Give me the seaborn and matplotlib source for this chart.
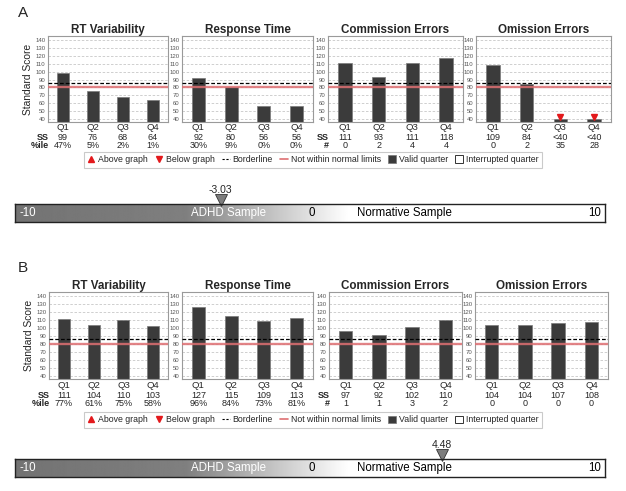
import numpy as np
import matplotlib
matplotlib.use("Agg")
import matplotlib.pyplot as plt
import matplotlib.transforms as mtransforms
from matplotlib.lines import Line2D
from matplotlib.patches import Patch
import seaborn as sns

W, H = 626, 491

measures = ["RT Variability", "Response Time", "Commission Errors", "Omission Errors"]
quarters = ["Q1", "Q2", "Q3", "Q4"]

# case A
a_rtv_ss = [99, 76, 68, 64]
a_rtv_pct = ["47%", "5%", "2%", "1%"]
a_rt_ss = [92, 80, 56, 56]
a_rt_pct = ["30%", "9%", "0%", "0%"]
a_com_ss = [111, 93, 111, 118]
a_com_n = [0, 2, 4, 4]
a_om_ss = [109, 84, None, None]  # None -> below graph (<40)
a_om_n = [0, 2, 35, 28]
a_index = -3.03

# case B
b_rtv_ss = [111, 104, 110, 103]
b_rtv_pct = ["77%", "61%", "75%", "58%"]
b_rt_ss = [127, 115, 109, 113]
b_rt_pct = ["96%", "84%", "73%", "81%"]
b_com_ss = [97, 92, 102, 110]
b_com_n = [1, 1, 3, 2]
b_om_ss = [104, 104, 107, 108]
b_om_n = [0, 0, 0, 0]
b_index = 4.48

borderline = 86
normal_limit = 80
floor_value = 40
y_ticks = list(range(40, 141, 10))
scale_min, scale_max = -10, 10

BAR = "#3b3b3b"
RED = "#e3191c"
PINK = "#de6f72"

sns.set_style("white")
plt.rcParams["font.family"] = ["Liberation Sans", "DejaVu Sans"]

fig = plt.figure(figsize=(W / 100, H / 100), dpi=100)


def px_axes(x0, y0, x1, y1):
    return fig.add_axes([x0 / W, 1 - y1 / H, (x1 - x0) / W, (y1 - y0) / H])


def fy(y):
    return 1 - y / H


def draw_case(letter, ss_lists, third_rows, index, lay):
    fig.text(18 / W, fy(lay["letter_y"]), letter, fontsize=11, va="center", ha="left")
    row_names = ["%ile", "%ile", "#", "#"]
    for k, (name, ss, third) in enumerate(zip(measures, ss_lists, third_rows)):
        x0, x1 = lay["boxes"][k]
        ax = px_axes(x0, lay["top"], x1, lay["bot"])
        vals = [v if v is not None else floor_value for v in ss]
        sns.barplot(x=quarters, y=vals, color=BAR, saturation=1, width=0.4,
                    edgecolor="#7a7a7a", linewidth=0.5, ax=ax, zorder=2)
        for i, v in enumerate(ss):
            if v is None:
                ax.plot(i, floor_value + 2.6, marker="v", color=RED, ms=4.5,
                        linestyle="none", zorder=4)
        ax.axhline(normal_limit, color=PINK, lw=1.7, alpha=0.85, zorder=3)
        ax.axhline(borderline, color="black", lw=0.9, ls=(0, (3, 1.6)), zorder=3)
        ax.set_ylim(36, 145.5)
        ax.set_xlim(-0.5, 3.5)
        ax.set_yticks(y_ticks)
        ax.yaxis.grid(True, color="#c8c8c8", lw=0.6, ls=(0, (3, 2)))
        ax.set_axisbelow(True)
        ax.tick_params(axis="y", labelsize=4.3, length=1.0, pad=0.8, colors="#555")
        ax.set_xticks([])
        ax.set_xlabel("")
        ax.set_ylabel("")
        for s in ax.spines.values():
            s.set_color("#9a9a9a")
            s.set_linewidth(0.8)
        ax.set_title(name, fontsize=8.4, fontweight="bold", pad=0)
        ax.title.set_y(1 + (lay["top"] - lay["title_y"]) / (lay["bot"] - lay["top"]) - 0.06)

        tr = mtransforms.blended_transform_factory(ax.transData, fig.transFigure)
        for i, q in enumerate(quarters):
            ss_txt = "<40" if ss[i] is None else str(ss[i])
            ax.text(i, fy(lay["q_y"]), q, transform=tr, ha="center", va="center", fontsize=6.8)
            ax.text(i, fy(lay["ss_y"]), ss_txt, transform=tr, ha="center", va="center", fontsize=6.5)
            ax.text(i, fy(lay["r3_y"]), str(third[i]), transform=tr, ha="center", va="center", fontsize=6.5)
        if k in (0, 2):
            xr = (x0 + 1) / W
            fig.text(xr, fy(lay["ss_y"]), "SS", ha="right", va="center", fontsize=6.5, fontweight="bold")
            fig.text(xr, fy(lay["r3_y"]), row_names[k], ha="right", va="center", fontsize=6.5, fontweight="bold")
        if k == 0:
            ax.set_ylabel("Standard Score", fontsize=7.4, labelpad=2)

    handles = [
        Line2D([], [], marker="^", color=RED, ls="none", ms=4.5),
        Line2D([], [], marker="v", color=RED, ls="none", ms=4.5),
        Line2D([], [], color="black", ls=(0, (2, 1.5)), lw=0.8),
        Line2D([], [], color=PINK, lw=1.2),
        Patch(facecolor=BAR, edgecolor="#777", lw=0.5),
        Patch(facecolor="white", edgecolor="#333", lw=0.7),
    ]
    labels = ["Above graph", "Below graph", "Borderline", "Not within normal limits",
              "Valid quarter", "Interrupted quarter"]
    leg = fig.legend(handles, labels, loc="center", ncol=6,
                     bbox_to_anchor=(313 / W, fy(lay["leg_y"])), fontsize=6.3,
                     frameon=True, fancybox=False, edgecolor="#bdbdbd",
                     handlelength=0.9, handleheight=0.9, handletextpad=0.35,
                     columnspacing=0.8, borderpad=0.4)
    leg.get_frame().set_linewidth(0.8)

    # composite index bar
    bx = px_axes(15, lay["bar_top"], 605, lay["bar_bot"])
    grid = np.linspace(scale_min, scale_max, 800)
    gray = np.interp(grid, [-10, -4.2, 1.3, 10], [0.45, 0.5, 1.0, 1.0])
    bx.imshow(gray[None, :], cmap="gray", vmin=0, vmax=1, aspect="auto",
              extent=[scale_min, scale_max, 0, 1])
    bx.set_xlim(scale_min, scale_max)
    bx.set_ylim(0, 1)
    bx.set_xticks([])
    bx.set_yticks([])
    for s in bx.spines.values():
        s.set_color("#222")
        s.set_linewidth(1.0)
    bx.text(-9.85, 0.5, "-10", color="white", fontsize=8.3, ha="left", va="center")
    bx.text(-2.75, 0.5, "ADHD Sample", color="white", fontsize=8.3, ha="center", va="center")
    bx.text(0.05, 0.5, "0", color="black", fontsize=8.3, ha="center", va="center")
    bx.text(3.2, 0.5, "Normative Sample", color="black", fontsize=8.3, ha="center", va="center")
    bx.text(9.85, 0.5, "10", color="black", fontsize=8.3, ha="right", va="center")
    bh = lay["bar_bot"] - lay["bar_top"]
    bx.plot(index, 1 + 4.5 / bh, marker="v", ms=8, color="#7d7d7d", mec="#333",
            mew=0.6, clip_on=False)
    bx.text(index, 1 + 14 / bh, f"{index:.2f}", fontsize=7.5, ha="center", va="center")


layout_a = dict(letter_y=13, boxes=[(48, 168), (182, 313), (328, 463), (476, 611)],
                top=36, bot=122, title_y=28, q_y=128, ss_y=137, r3_y=146,
                leg_y=159.5, bar_top=204, bar_bot=222)
layout_b = dict(letter_y=268, boxes=[(49, 168), (182, 313), (329, 462), (475, 608)],
                top=292, bot=379, title_y=283, q_y=385, ss_y=395, r3_y=404,
                leg_y=420, bar_top=459, bar_bot=477)

draw_case("A", [a_rtv_ss, a_rt_ss, a_com_ss, a_om_ss],
          [a_rtv_pct, a_rt_pct, a_com_n, a_om_n], a_index, layout_a)
draw_case("B", [b_rtv_ss, b_rt_ss, b_com_ss, b_om_ss],
          [b_rtv_pct, b_rt_pct, b_com_n, b_om_n], b_index, layout_b)

fig.savefig("out.png", dpi=100)
